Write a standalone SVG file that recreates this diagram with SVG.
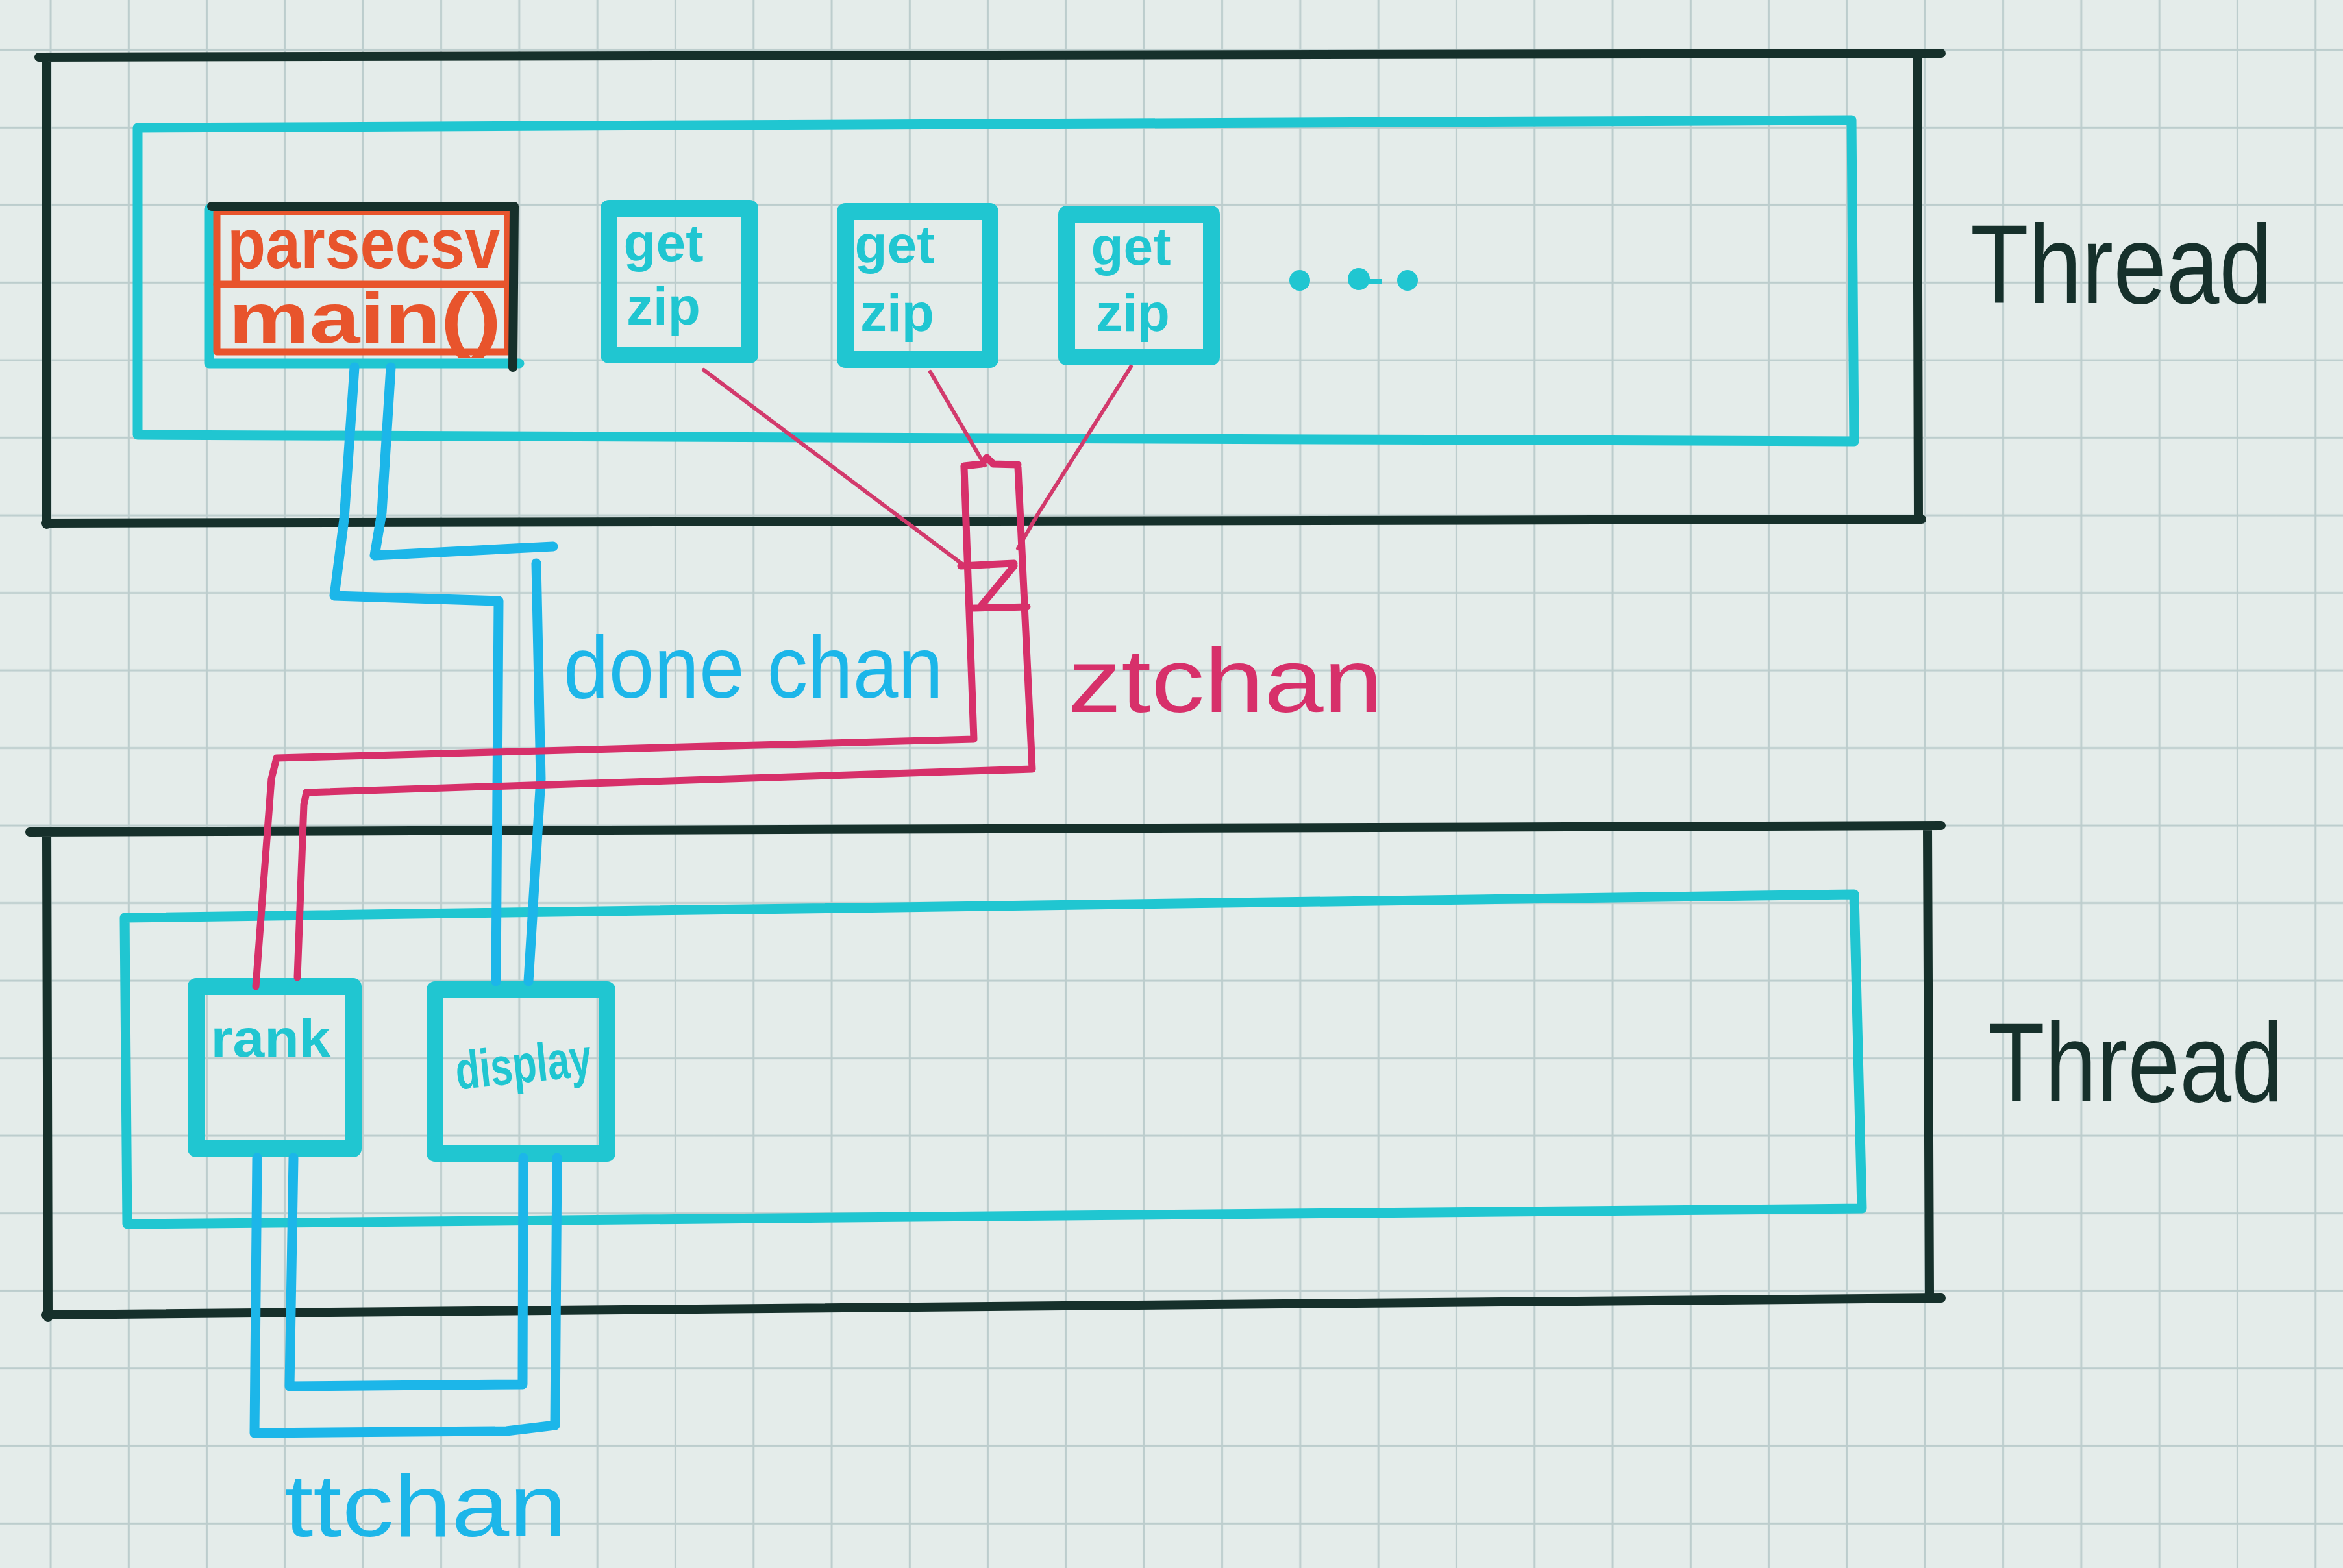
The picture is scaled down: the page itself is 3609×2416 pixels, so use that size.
<svg xmlns="http://www.w3.org/2000/svg" width="3609" height="2416" viewBox="0 0 3609 2416">
<defs>
<pattern id="grid" patternUnits="userSpaceOnUse" x="18" y="17" width="120.3" height="119.5">
<path d="M0 60 H120.3 M60 0 V119.5" fill="none" stroke="#bccdcd" stroke-width="3"/>
</pattern>
</defs>
<style>
.blk{fill:none;stroke:#16302b;stroke-width:14;stroke-linecap:round;stroke-linejoin:round}
.cy{fill:none;stroke:#20c6d1;stroke-width:15;stroke-linecap:round;stroke-linejoin:round}
.node{fill:none;stroke:#20c6d1;stroke-width:26;stroke-linejoin:round}
.bl{fill:none;stroke:#1cb6e9;stroke-width:15;stroke-linecap:round;stroke-linejoin:round}
.mg{fill:none;stroke:#d7306a;stroke-width:11;stroke-linecap:round;stroke-linejoin:round}
.mgt{fill:none;stroke:#d23a6c;stroke-width:6;stroke-linecap:round}
.rd{fill:none;stroke:#e8542c;stroke-width:11;stroke-linecap:round;stroke-linejoin:round}
.t{font-family:"Liberation Sans","DejaVu Sans",sans-serif}
.thr{fill:#16302b;font-size:172px}
.ct{fill:#20c6d1;font-size:82px;font-weight:bold}
.rt{fill:#e8542c;font-size:110px;font-weight:bold}
.bt{fill:#1cb6e9;font-size:135px}
.mt{fill:#d7306a;font-size:140px}
</style>
<rect width="3609" height="2416" fill="#e4ecea"/>
<rect width="3609" height="2416" fill="url(#grid)"/>

<g id="thread-top">
<path class="blk" d="M60 88 L2990 82 M72 90 L72 808 M2953 84 L2955 796 M70 806 L2960 800"/>
<path class="cy" d="M212 197 L2852 185 L2856 680 L212 670 Z"/>
<text class="t thr" x="3035" y="467" textLength="465" lengthAdjust="spacingAndGlyphs">Thread</text>
</g>

<g id="node-main">
<path class="cy" d="M322 322 L322 560 L800 560"/>
<rect class="rd" x="334" y="326" width="448" height="216"/>
<path class="rd" d="M334 438 L782 438"/>
<path class="blk" d="M326 318 L792 318 L790 566"/>
<text class="t rt" x="350" y="413" textLength="420" lengthAdjust="spacingAndGlyphs">parsecsv</text>
<text class="t rt" x="352" y="528" textLength="420" lengthAdjust="spacingAndGlyphs">main()</text>
</g>

<g id="node-getzip-1">
<rect class="node" x="938" y="321" width="217" height="226"/>
<text class="t ct" x="1022" y="402" text-anchor="middle">get</text>
<text class="t ct" x="1022" y="500" text-anchor="middle">zip</text>
</g>
<g id="node-getzip-2">
<rect class="node" x="1302" y="326" width="223" height="228"/>
<text class="t ct" x="1378" y="405" text-anchor="middle">get</text>
<text class="t ct" x="1382" y="510" text-anchor="middle">zip</text>
</g>
<g id="node-getzip-3">
<rect class="node" x="1643" y="330" width="223" height="220"/>
<text class="t ct" x="1742" y="408" text-anchor="middle">get</text>
<text class="t ct" x="1745" y="510" text-anchor="middle">zip</text>
</g>

<g id="ellipsis" fill="#20c6d1">
<circle cx="2002" cy="432" r="16"/>
<circle cx="2093" cy="430" r="17"/>
<circle cx="2168" cy="432" r="16"/>
<path d="M2093 434 L2128 434" stroke="#20c6d1" stroke-width="8"/>
</g>

<g id="thread-bottom">
<path class="blk" d="M46 1282 L2990 1272 M72 1290 L74 2030 M2969 1277 L2972 1995 M70 2026 L2990 2000"/>
<path class="cy" d="M192 1414 L2856 1378 L2868 1862 L196 1886 Z"/>
<text class="t thr" x="3062" y="1697" textLength="455" lengthAdjust="spacingAndGlyphs">Thread</text>
</g>

<g id="node-rank">
<rect class="node" x="302" y="1520" width="242" height="250"/>
<text class="t ct" x="417" y="1628" text-anchor="middle" font-size="80" textLength="185" lengthAdjust="spacingAndGlyphs">rank</text>
</g>
<g id="node-display">
<rect class="node" x="670" y="1525" width="265" height="252"/>
<text class="t ct" x="806" y="1668" text-anchor="middle" font-size="85" textLength="210" lengthAdjust="spacingAndGlyphs" transform="rotate(-6 806 1640)">display</text>
</g>

<g id="connectors">
<path class="bl" d="M546 566 L530 800 L515 918 L768 926 L764 1512"/>
<path class="bl" d="M602 566 L588 790 L577 856 L852 842"/>
<path class="bl" d="M826 868 L833 1200 L814 1512"/>
<text class="t bt" x="868" y="1075" textLength="585" lengthAdjust="spacingAndGlyphs">done chan</text>
<path class="mgt" d="M1084 570 L1490 875"/>
<path class="mgt" d="M1433 573 L1517 717"/>
<path class="mgt" d="M1742 565 L1600 790 L1568 845"/>
<path class="mg" d="M1485 720 L1500 1139 L426 1168 L418 1200 L394 1520"/>
<path class="mg" d="M1568 720 L1590 1185 L472 1221 L468 1240 L458 1506"/>
<path class="mg" d="M1485 718 L1512 715 L1520 705 L1530 715 L1568 716"/>
<path class="mg" d="M1480 872 L1562 868 M1500 937 L1582 935 M1562 872 L1510 935"/>
<text class="t mt" x="1645" y="1097" textLength="485" lengthAdjust="spacingAndGlyphs">ztchan</text>
<path class="bl" d="M396 1784 L392 2208 L780 2205 L855 2196 L858 1784"/>
<path class="bl" d="M452 1784 L446 2136 L805 2133 L806 1784"/>
<text class="t bt" x="438" y="2367" font-size="140" textLength="435" lengthAdjust="spacingAndGlyphs">ttchan</text>
</g>
</svg>
